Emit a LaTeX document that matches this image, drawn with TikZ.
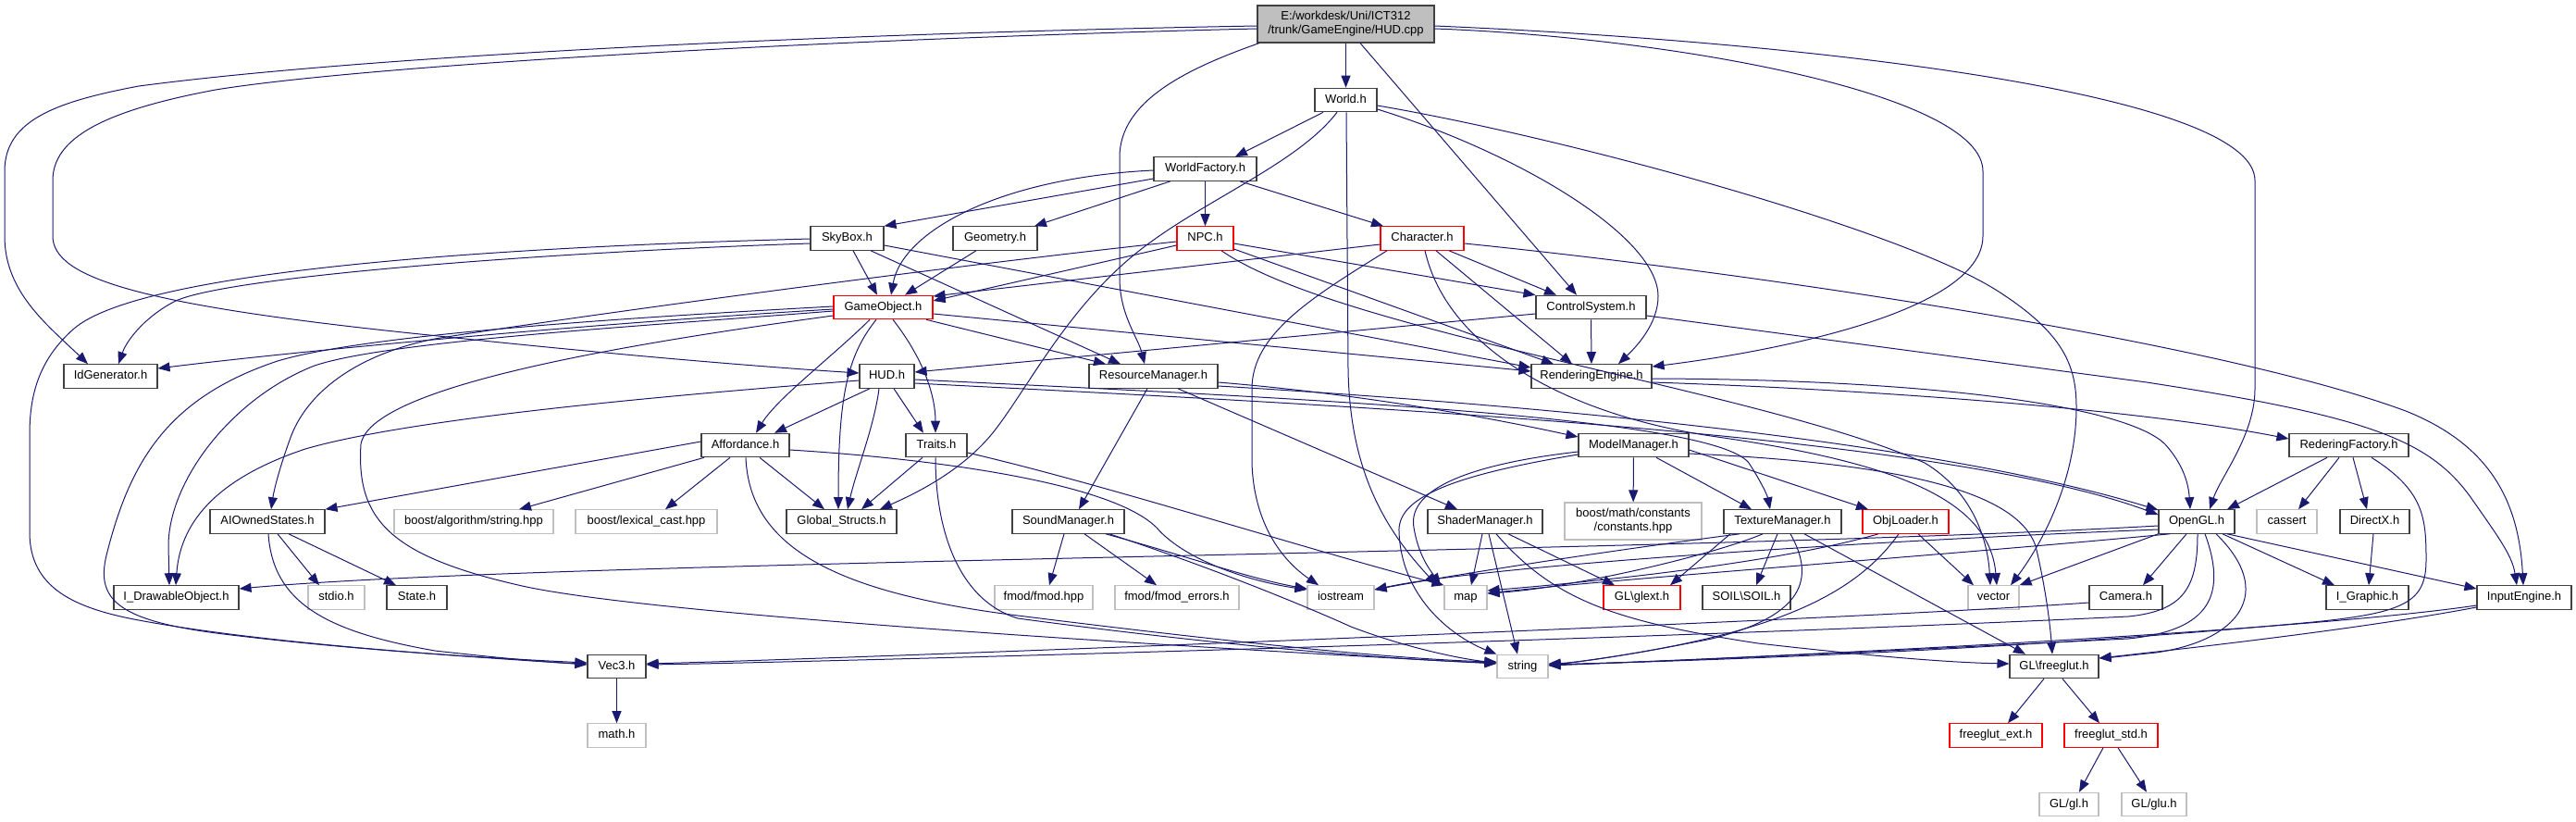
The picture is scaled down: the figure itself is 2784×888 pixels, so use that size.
\documentclass[tikz,border=0pt]{standalone}
\usepackage{fontspec}
\setmainfont{Liberation Sans}
\usetikzlibrary{arrows.meta}
\definecolor{eb}{HTML}{191970}
\definecolor{bgray}{HTML}{BFBFBF}
\definecolor{bdark}{HTML}{404040}
\definecolor{bred}{HTML}{FF0000}
\begin{document}
\begin{tikzpicture}[x=1pt,y=-1pt,
 nb/.style={draw=bdark, fill=white, line width=1.1pt, minimum height=25.5pt, inner sep=0pt, text height=9.5pt, text depth=2.7pt, font=\fontsize{13}{15}\selectfont},
 nr/.style={nb, draw=bred},
 ng/.style={nb, draw=bgray},
 nt/.style={draw=bdark, fill=white, line width=1.1pt, minimum height=40pt, inner sep=0pt, align=center, font=\fontsize{13}{15}\selectfont},
 e/.style={draw=eb, line width=1pt, -{Triangle[length=13pt,width=10pt]}},
]
\useasboundingbox (0,0) rectangle (2784,888);
% nodes
\node[nt, fill=bgray, minimum width=191] (root) at (1454.5,26) {E:/workdesk/Uni/ICT312\\/trunk/GameEngine/HUD.cpp};
\node[nb, minimum width=67] (world) at (1454.5,108) {World.h};
\node[nb, minimum width=111] (wf) at (1302.5,182.5) {WorldFactory.h};
\node[nb, minimum width=79] (sky) at (915.5,257.5) {SkyBox.h};
\node[nb, minimum width=91] (geo) at (1075.5,257.5) {Geometry.h};
\node[nr, minimum width=61] (npc) at (1302.5,257.5) {NPC.h};
\node[nr, minimum width=90] (chr) at (1537,257.5) {Character.h};
\node[nr, minimum width=107] (go) at (954.5,332) {GameObject.h};
\node[nb, minimum width=119] (cs) at (1719.5,332) {ControlSystem.h};
\node[nb, minimum width=101] (idg) at (119.5,406.5) {IdGenerator.h};
\node[nb, minimum width=59] (hud) at (958.5,406.5) {HUD.h};
\node[nb, minimum width=139] (rm) at (1246.5,406.5) {ResourceManager.h};
\node[nb, minimum width=130] (re) at (1720,406.5) {RenderingEngine.h};
\node[nb, minimum width=95] (aff) at (805.5,481) {Affordance.h};
\node[nb, minimum width=66] (tr) at (1012,481) {Traits.h};
\node[nb, minimum width=119] (mm) at (1765.5,481) {ModelManager.h};
\node[nb, minimum width=129] (rf) at (2538.5,481) {RederingFactory.h};
\node[nb, minimum width=124] (aio) at (289,563.5) {AIOwnedStates.h};
\node[ng, minimum width=172] (balg) at (512,563.5) {boost/algorithm/string.hpp};
\node[ng, minimum width=153] (blex) at (698.5,563.5) {boost/lexical\_cast.hpp};
\node[nb, minimum width=119] (gs) at (909.5,563.5) {Global\_Structs.h};
\node[nb, minimum width=121] (sm) at (1154.5,563.5) {SoundManager.h};
\node[nb, minimum width=124] (shm) at (1605,563.5) {ShaderManager.h};
\node[nt, draw=bgray, minimum width=148] (bmath) at (1765,563) {boost/math/constants\\/constants.hpp};
\node[nb, minimum width=127] (tm) at (1926.5,563.5) {TextureManager.h};
\node[nr, minimum width=93] (ol) at (2059.5,563.5) {ObjLoader.h};
\node[nb, minimum width=82] (ogl) at (2374,563.5) {OpenGL.h};
\node[ng, minimum width=65] (cas) at (2471.5,563.5) {cassert};
\node[nb, minimum width=75] (dx) at (2566.5,563.5) {DirectX.h};
\node[nb, minimum width=135] (ido) at (190.5,645.5) {I\_DrawableObject.h};
\node[ng, minimum width=61] (stdio) at (363.5,645.5) {stdio.h};
\node[nb, minimum width=65] (state) at (450.5,645.5) {State.h};
\node[ng, minimum width=106] (fmodh) at (1128,645.5) {fmod/fmod.hpp};
\node[ng, minimum width=134] (fmode) at (1272,645.5) {fmod/fmod\_errors.h};
\node[ng, minimum width=72] (ios) at (1449,645.5) {iostream};
\node[ng, minimum width=46] (map) at (1584,645.5) {map};
\node[nr, minimum width=83] (glext) at (1774.5,645.5) {GL\textbackslash glext.h};
\node[nb, minimum width=95] (soil) at (1887.5,645.5) {SOIL\textbackslash SOIL.h};
\node[ng, minimum width=55] (vect) at (2154.5,645.5) {vector};
\node[nb, minimum width=79] (cam) at (2297.5,645.5) {Camera.h};
\node[nb, minimum width=89] (ig) at (2558.5,645.5) {I\_Graphic.h};
\node[nb, minimum width=102] (ie) at (2728,645.5) {InputEngine.h};
\node[nb, minimum width=63] (v3) at (666.5,720) {Vec3.h};
\node[ng, minimum width=55] (str) at (1645.5,720) {string};
\node[nb, minimum width=96] (fg) at (2220,720) {GL\textbackslash freeglut.h};
\node[ng, minimum width=63] (math) at (666.5,794.5) {math.h};
\node[nr, minimum width=100] (fge) at (2157,794.5) {freeglut\_ext.h};
\node[nr, minimum width=101] (fgs) at (2281.5,794.5) {freeglut\_std.h};
\node[ng, minimum width=64] (gl) at (2236,869) {GL/gl.h};
\node[ng, minimum width=70] (glu) at (2328,869) {GL/glu.h};
% root
\draw[e] (root) -- (world);
\draw[e] (root.west |- 0,28) .. controls (900,36) and (400,60) .. (150,93) .. controls (60,110) and (5,130) .. (5,185) -- (5,255) .. controls (5,315) and (50,350) .. (95,0 |- idg.north);
\draw[e] (root.west |- 0,31) .. controls (900,42) and (400,70) .. (233,97) .. controls (110,120) and (57,150) .. (57,195) -- (57,255) .. controls (57,300) and (150,330) .. (464,362) .. controls (700,387) and (850,398) .. (hud.west |- 0,403);
\draw[e] (1361,0 |- root.south) .. controls (1280,75) and (1210,110) .. (1210,170) -- (1210,300) .. controls (1210,340) and (1230,365) .. (1237,0 |- rm.north);
\draw[e] (1470,0 |- root.south) -- (1704,0 |- cs.north);
\draw[e] (root.east |- 0,31) .. controls (1800,40) and (2143,100) .. (2143,185) -- (2143,255) .. controls (2143,340) and (1900,382) .. (re.east |- 0,396);
\draw[e] (root.east |- 0,28) .. controls (1950,45) and (2437,100) .. (2437,195) -- (2437,420) .. controls (2437,470) and (2400,515) .. (2388,0 |- ogl.north);
% World
\draw[e] (1430,0 |- world.south) -- (1335,0 |- wf.north);
\draw[e] (1445,0 |- world.south) .. controls (1400,180) and (1290,220) .. (1220,280) .. controls (1150,340) and (1110,420) .. (1075,465) .. controls (1040,510) and (985,535) .. (951,0 |- gs.north);
\draw[e] (1455,0 |- world.south) -- (1457,400) .. controls (1459,500) and (1490,565) .. (1553,0 |- map.north);
\draw[e] (world.east |- 0,114) .. controls (1700,150) and (2060,250) .. (2160,315) .. controls (2230,360) and (2244,395) .. (2244,440) .. controls (2244,520) and (2205,590) .. (2173,0 |- vect.north);
\draw[e] (world.east |- 0,118) .. controls (1640,165) and (1792,255) .. (1792,320) .. controls (1792,350) and (1768,375) .. (1749,0 |- re.north);
% WorldFactory
\draw[e] (wf.west |- 0,193) -- (sky.north east);
\draw[e] (1265,0 |- wf.south) -- (1118,0 |- geo.north);
\draw[e] (wf) -- (npc);
\draw[e] (1340,0 |- wf.south) -- (1495,0 |- chr.north);
\draw[e] (wf.west |- 0,184) .. controls (1080,192) and (975,250) .. (963,0 |- go.north);
% SkyBox
\draw[e] (sky.west |- 0,263) .. controls (600,272) and (250,298) .. (190,325) .. controls (160,340) and (138,365) .. (128,0 |- idg.north);
\draw[e] (sky.west |- 0,258) .. controls (500,268) and (150,295) .. (80,355) .. controls (40,390) and (32,430) .. (32,470) -- (32,575) .. controls (32,635) and (80,657) .. (150,670) .. controls (300,698) and (550,712) .. (v3.west |- 0,718);
\draw[e] (922,0 |- sky.south) -- (948,0 |- go.north);
\draw[e] (941,0 |- sky.south) -- (1211,0 |- rm.north);
\draw[e] (sky.east |- 0,265) -- (re.west |- 0,397);
% Geometry
\draw[e] (1055,0 |- geo.south) -- (978,0 |- go.north);
% NPC
\draw[e] (npc.west |- 0,265) -- (go.east |- 0,325);
\draw[e] (npc.west |- 0,261) .. controls (1000,290) and (600,345) .. (470,366) .. controls (390,382) and (335,420) .. (315,470) .. controls (302,505) and (296,530) .. (293,0 |- aio.north);
\draw[e] (npc.east |- 0,263) -- (cs.north west);
\draw[e] (npc.east |- 0,269) -- (1679,0 |- re.north);
\draw[e] (1320,0 |- npc.south) .. controls (1450,360) and (1900,420) .. (2080,500) .. controls (2130,530) and (2148,580) .. (2151,0 |- vect.north);
% Character
\draw[e] (chr.west |- 0,264) -- (go.east |- 0,320);
\draw[e] (1566,0 |- chr.south) -- (1682,0 |- cs.north);
\draw[e] (1552,0 |- chr.south) -- (1699,0 |- re.north);
\draw[e] (1499,0 |- chr.south) .. controls (1420,320) and (1353,360) .. (1353,420) -- (1353,500) .. controls (1355,565) and (1385,605) .. (1425,0 |- ios.north);
\draw[e] (1540,0 |- chr.south) .. controls (1565,380) and (1700,450) .. (1856,472) .. controls (2050,500) and (2150,540) .. (2158,0 |- vect.north);
\draw[e] (chr.east |- 0,263) .. controls (1900,295) and (2400,370) .. (2600,444) .. controls (2690,480) and (2722,540) .. (2727,0 |- ie.north);
% ControlSystem
\draw[e] (cs.west |- 0,339) -- (hud.east |- 0,402);
\draw[e] (cs) -- (re);
\draw[e] (cs.east |- 0,341) -- (2320,413) .. controls (2560,450) and (2625,475) .. (2670,537) .. controls (2700,580) and (2715,600) .. (2720,0 |- ie.north);
% GameObject
\draw[e] (go.west |- 0,334) .. controls (600,352) and (300,382) .. (idg.east |- 0,398);
\draw[e] (1001,0 |- go.south) -- (1195,0 |- rm.north);
\draw[e] (go.east |- 0,339) -- (re.west |- 0,401);
\draw[e] (940,0 |- go.south) .. controls (900,385) and (840,430) .. (817,0 |- aff.north);
\draw[e] (947,0 |- go.south) .. controls (915,385) and (906,430) .. (906,0 |- gs.north);
\draw[e] (965,0 |- go.south) .. controls (1000,390) and (1011,430) .. (1011,0 |- tr.north);
\draw[e] (go.west |- 0,336) .. controls (700,352) and (420,368) .. (340,395) .. controls (250,430) and (182,520) .. (182,590) -- (183,0 |- ido.north);
\draw[e] (go.west |- 0,331) .. controls (700,342) and (400,360) .. (300,390) .. controls (180,430) and (140,500) .. (115,600) .. controls (103,650) and (130,672) .. (250,686) .. controls (400,704) and (550,712) .. (v3.west |- 0,716);
\draw[e] (go.west |- 0,341) .. controls (650,375) and (400,420) .. (390,480) .. controls (385,560) and (420,600) .. (560,632) .. controls (700,665) and (1300,700) .. (str.west |- 0,717);
% HUD
\draw[e] (940,0 |- hud.south) -- (837,0 |- aff.north);
\draw[e] (966,0 |- hud.south) -- (998,0 |- tr.north);
\draw[e] (950,0 |- hud.south) .. controls (945,460) and (925,510) .. (916,0 |- gs.north);
\draw[e] (hud.west |- 0,411) .. controls (750,425) and (450,450) .. (330,485) .. controls (240,515) and (195,560) .. (190,0 |- ido.north);
\draw[e] (hud.east |- 0,410) .. controls (1400,430) and (1850,450) .. (1890,500) .. controls (1903,520) and (1910,535) .. (1913,0 |- tm.north);
\draw[e] (hud.east |- 0,414) .. controls (1500,440) and (2100,470) .. (ogl.west |- 0,556);
% ResourceManager
\draw[e] (1240,0 |- rm.south) -- (1166,0 |- sm.north);
\draw[e] (1273,0 |- rm.south) -- (1575,0 |- shm.north);
\draw[e] (rm.east |- 0,413) .. controls (1500,428) and (1650,460) .. (mm.west |- 0,472);
\draw[e] (rm.east |- 0,417) .. controls (1700,440) and (2100,480) .. (ogl.west |- 0,551);
% RenderingEngine
\draw[e] (re.east |- 0,413) .. controls (2000,420) and (2300,440) .. (rf.west |- 0,474);
\draw[e] (re.east |- 0,409) .. controls (2100,410) and (2300,440) .. (2340,480) .. controls (2358,500) and (2365,520) .. (2367,0 |- ogl.north);
% Affordance
\draw[e] (aff.west |- 0,477) -- (aio.north east);
\draw[e] (761,0 |- aff.south) -- (561,0 |- balg.north);
\draw[e] (789,0 |- aff.south) -- (719,0 |- blex.north);
\draw[e] (821,0 |- aff.south) -- (891,0 |- gs.north);
\draw[e] (aff.east |- 0,486) .. controls (1000,495) and (1200,520) .. (1250,570) .. controls (1280,605) and (1350,628) .. (ios.west |- 0,637);
\draw[e] (806,0 |- aff.south) .. controls (810,590) and (900,640) .. (1100,665) .. controls (1300,690) and (1500,712) .. (str.west |- 0,715);
% Traits
\draw[e] (997,0 |- tr.south) -- (931,0 |- gs.north);
\draw[e] (1011,0 |- tr.south) .. controls (1011,580) and (1040,650) .. (1100,668) .. controls (1300,695) and (1500,713) .. (str.west |- 0,716);
\draw[e] (tr.east |- 0,489) .. controls (1200,525) and (1400,590) .. (map.north west);
% AIOwnedStates
\draw[e] (300,0 |- aio.south) -- (345,0 |- stdio.north);
\draw[e] (312,0 |- aio.south) -- (428,0 |- state.north);
\draw[e] (290,0 |- aio.south) .. controls (295,650) and (350,682) .. (470,703) .. controls (550,712) and (600,716) .. (v3.west |- 0,717);
% SoundManager
\draw[e] (1150,0 |- sm.south) -- (1134,0 |- fmodh.north);
\draw[e] (1172,0 |- sm.south) -- (1250,0 |- fmode.north);
\draw[e] (1195,0 |- sm.south) .. controls (1280,600) and (1350,625) .. (ios.west |- 0,636);
\draw[e] (1199,0 |- sm.south) .. controls (1300,610) and (1400,650) .. (1460,677) .. controls (1520,700) and (1580,712) .. (str.west |- 0,716);
% ShaderManager
\draw[e] (1602,0 |- shm.south) -- (1590,0 |- map.north);
\draw[e] (1609,0 |- shm.south) -- (1640,0 |- str.north);
\draw[e] (1630,0 |- shm.south) -- (1745,0 |- glext.north);
\draw[e] (1617,0 |- shm.south) .. controls (1680,650) and (1750,672) .. (1900,695) .. controls (2050,712) and (2120,716) .. (fg.west |- 0,717);
% ModelManager
\draw[e] (mm.west |- 0,488) .. controls (1600,500) and (1520,525) .. (1528,570) .. controls (1533,600) and (1545,615) .. (1557,0 |- map.north);
\draw[e] (mm.west |- 0,491) .. controls (1560,515) and (1510,540) .. (1512,575) .. controls (1515,650) and (1575,690) .. (str.north west);
\draw[e] (mm) -- (bmath);
\draw[e] (1790,0 |- mm.south) -- (1893,0 |- tm.north);
\draw[e] (mm.east |- 0,486) -- (2019,0 |- ol.north);
\draw[e] (mm.east |- 0,490) .. controls (2050,500) and (2180,530) .. (2200,590) .. controls (2212,640) and (2216,680) .. (2218,0 |- fg.north);
% TextureManager
\draw[e] (1880,0 |- tm.south) .. controls (1700,600) and (1550,625) .. (ios.east |- 0,637);
\draw[e] (1905,0 |- tm.south) .. controls (1850,600) and (1700,635) .. (map.east |- 0,641);
\draw[e] (1921,0 |- tm.south) -- (1898,0 |- soil.north);
\draw[e] (1870,0 |- tm.south) -- (1805,0 |- glext.north);
\draw[e] (1935,0 |- tm.south) .. controls (1962,625) and (1950,665) .. (1850,690) .. controls (1750,710) and (1700,716) .. (str.east |- 0,717);
\draw[e] (1950,0 |- tm.south) -- (2189,0 |- fg.north);
% ObjLoader
\draw[e] (2030,0 |- ol.south) .. controls (1950,600) and (1800,622) .. (map.east |- 0,638);
\draw[e] (2052,0 |- ol.south) .. controls (2000,650) and (1900,690) .. (str.east |- 0,719);
\draw[e] (2073,0 |- ol.south) -- (2133,0 |- vect.north);
% OpenGL
\draw[e] (ogl.west |- 0,568) .. controls (1800,598) and (600,605) .. (ido.east |- 0,636);
\draw[e] (ogl.west |- 0,572) .. controls (2000,585) and (1600,612) .. (ios.east |- 0,637);
\draw[e] (2345,0 |- ogl.south) .. controls (2100,600) and (1750,625) .. (map.east |- 0,641);
\draw[e] (ogl.south west) -- (vect.north east);
\draw[e] (2363,0 |- ogl.south) -- (2316,0 |- cam.north);
\draw[e] (2375,0 |- ogl.south) .. controls (2375,635) and (2360,660) .. (2300,666) .. controls (1800,690) and (900,715) .. (v3.east |- 0,718);
\draw[e] (2383,0 |- ogl.south) .. controls (2410,650) and (2380,682) .. (2300,690) .. controls (2000,705) and (1800,715) .. (str.east |- 0,718);
\draw[e] (2395,0 |- ogl.south) .. controls (2460,640) and (2420,692) .. (2330,705) .. controls (2300,708) and (2285,710) .. (fg.east |- 0,711);
\draw[e] (2402,0 |- ogl.south) -- (2523,0 |- ig.north);
\draw[e] (2407,0 |- ogl.south) -- (ie.west |- 0,636);
% Camera, InputEngine, RederingFactory, DirectX
\draw[e] (cam.west |- 0,651) .. controls (2000,670) and (900,712) .. (v3.east |- 0,717);
\draw[e] (ie.west |- 0,654) .. controls (2500,680) and (2000,706) .. (str.east |- 0,719);
\draw[e] (ie.west |- 0,656) .. controls (2550,680) and (2350,702) .. (fg.east |- 0,711);
\draw[e] (2515,0 |- rf.south) -- (2407,0 |- ogl.north);
\draw[e] (2528,0 |- rf.south) -- (2484,0 |- cas.north);
\draw[e] (2543,0 |- rf.south) -- (2558,0 |- dx.north);
\draw[e] (2563,0 |- rf.south) .. controls (2620,530) and (2622,560) .. (2622,605) .. controls (2622,650) and (2600,662) .. (2500,672) .. controls (2200,700) and (1900,712) .. (str.east |- 0,718);
\draw[e] (2565,0 |- dx.south) -- (2560,0 |- ig.north);
% bottom
\draw[e] (v3) -- (math);
\draw[e] (2209,0 |- fg.south) -- (2170,0 |- fge.north);
\draw[e] (2229,0 |- fg.south) -- (2269,0 |- fgs.north);
\draw[e] (2273,0 |- fgs.south) -- (2247,0 |- gl.north);
\draw[e] (2289,0 |- fgs.south) -- (2320,0 |- glu.north);
\end{tikzpicture}
\end{document}
